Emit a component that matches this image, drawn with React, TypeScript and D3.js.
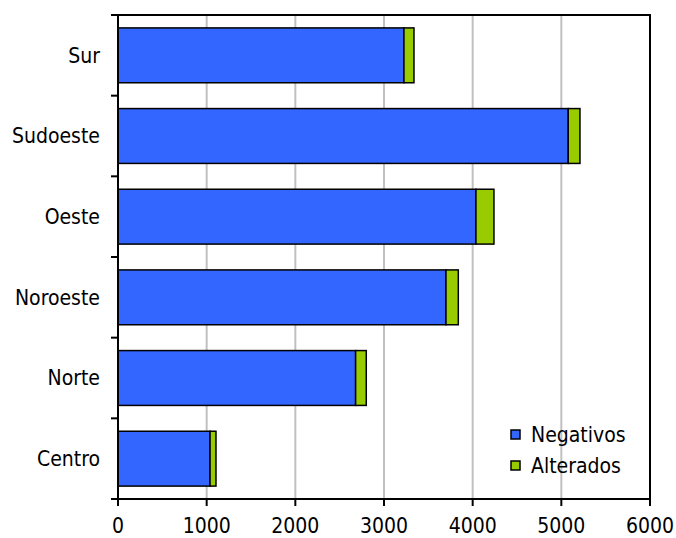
import { useMemo } from "react";
import * as d3 from "d3";

const categories = ["Sur", "Sudoeste", "Oeste", "Noroeste", "Norte", "Centro"];
const negativos = [3225, 5078, 4037, 3699, 2680, 1038];
const alterados = [113, 132, 203, 139, 120, 67];
const xTicks = [0, 1000, 2000, 3000, 4000, 5000, 6000];
const seriesNames = ["Negativos", "Alterados"];
const seriesColors = ["#3366FF", "#99CC00"];

const W = 676;
const H = 538;
const FONT = "'DejaVu Sans Condensed', 'DejaVu Sans', sans-serif";

export default function App() {
  const margin = { top: 15, right: 26, bottom: 39, left: 118 };

  const x = useMemo(
    () => d3.scaleLinear().domain([0, 6000]).range([margin.left, W - margin.right]),
    []
  );
  const y = useMemo(
    () =>
      d3
        .scaleBand<string>()
        .domain(categories)
        .range([margin.top, H - margin.bottom])
        .paddingInner(0.32)
        .paddingOuter(0.16),
    []
  );

  const step = y.step();
  const top = margin.top;
  const bottom = H - margin.bottom;
  const left = margin.left;
  const right = W - margin.right;

  return (
    <svg
      width={W}
      height={H}
      style={{ position: "absolute", left: 0, top: 0, background: "#fff" }}
      fontFamily={FONT}
    >
      {/* gridlines */}
      {xTicks.slice(1, -1).map((t) => (
        <line key={t} x1={x(t)} x2={x(t)} y1={top} y2={bottom} stroke="#c0c0c0" strokeWidth={2} />
      ))}

      {/* bars */}
      {categories.map((c, i) => {
        const y0 = y(c)!;
        const bw = y.bandwidth();
        const total = negativos[i] + alterados[i];
        return (
          <g key={c}>
            <rect
              x={x(0)}
              y={y0}
              width={x(negativos[i]) - x(0)}
              height={bw}
              fill={seriesColors[0]}
              stroke="#000"
              strokeWidth={1.5}
            />
            <rect
              x={x(negativos[i])}
              y={y0}
              width={x(total) - x(negativos[i])}
              height={bw}
              fill={seriesColors[1]}
              stroke="#000"
              strokeWidth={1.5}
            />
          </g>
        );
      })}

      {/* plot border */}
      <rect x={left} y={top} width={right - left} height={bottom - top} fill="none" stroke="#000" strokeWidth={2} />

      {/* y ticks and labels */}
      {d3.range(categories.length + 1).map((i) => (
        <line key={i} x1={left - 7} x2={left} y1={top + i * step} y2={top + i * step} stroke="#000" strokeWidth={2} />
      ))}
      {categories.map((c) => (
        <text
          key={c}
          x={100}
          y={y(c)! + y.bandwidth() / 2}
          dy="0.35em"
          textAnchor="end"
          fontSize={21}
          fill="#000"
        >
          {c}
        </text>
      ))}

      {/* x ticks and labels */}
      {xTicks.map((t) => (
        <g key={t}>
          <line x1={x(t)} x2={x(t)} y1={bottom} y2={bottom + 7} stroke="#000" strokeWidth={2} />
          <text x={x(t)} y={533} textAnchor="middle" fontSize={21} fill="#000">
            {t}
          </text>
        </g>
      ))}

      {/* legend */}
      {seriesNames.map((s, i) => (
        <g key={s} transform={`translate(511, ${430 + i * 31})`}>
          <rect x={0} y={0} width={9} height={9} fill={seriesColors[i]} stroke="#000" strokeWidth={1.5} />
          <text x={20} y={5} dy="0.35em" fontSize={21} fill="#000">
            {s}
          </text>
        </g>
      ))}
    </svg>
  );
}
